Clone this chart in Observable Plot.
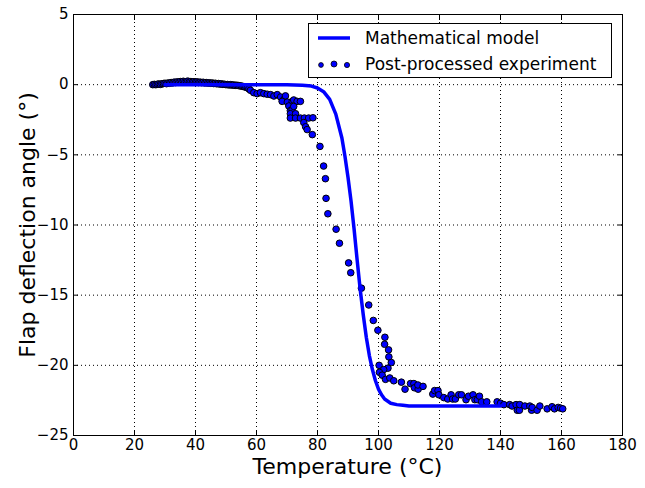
<!DOCTYPE html>
<html><head><meta charset="utf-8">
<script src="https://cdn.jsdelivr.net/npm/d3@7"></script>
<script src="https://cdn.jsdelivr.net/npm/@observablehq/plot@0.6"></script>
<style>
body{margin:0;background:#fff;}
#wrap{position:relative;width:645px;height:488px;font-family:"DejaVu Sans",sans-serif;color:#000;}
#legend{position:absolute;left:308px;top:23px;width:304px;height:55px;border:1px solid #000;background:#fff;font-size:17px;box-sizing:border-box;}
.row{position:absolute;left:0;height:24px;display:flex;align-items:center;white-space:nowrap;}
.row svg{margin-left:8px;margin-right:14px;}
#xlab{position:absolute;left:73px;width:549px;top:456px;line-height:22px;height:22px;text-align:center;font-size:22px;white-space:nowrap;}
#ylab{position:absolute;left:28px;top:225px;line-height:22px;transform:translate(-50%,-50%) rotate(-90deg);font-size:22px;white-space:nowrap;}
</style>
</head><body>
<div id="wrap"></div>
<script>
// Axis ticks
const xTicks = [0, 20, 40, 60, 80, 100, 120, 140, 160, 180];
const yTicks = [-25, -20, -15, -10, -5, 0, 5];

// Mathematical model (temperature °C, deflection °)
const modelTemp = [30, 40, 50, 60, 70, 75, 78, 80, 82, 84, 86, 88, 89, 90, 91, 92, 93, 94, 95, 96, 97, 98, 99, 100, 101, 102, 104, 106, 108, 110, 115, 120, 130, 140];
const modelAngle = [0, 0, 0, 0, -0.01, -0.04, -0.1, -0.24, -0.5, -1.05, -2.1, -3.8, -5.1, -6.6, -8.3, -10.3, -12.5, -14.6, -16.4, -18.0, -19.3, -20.3, -21.1, -21.7, -22.1, -22.4, -22.7, -22.8, -22.85, -22.9, -22.9, -22.9, -22.9, -22.9];

// Post-processed experiment
const expTemp = [
 26, 26.5, 27, 27.5, 28, 28.5, 29, 29.5, 30, 30.5, 31, 31.5, 32, 32.5, 33, 33.5, 34, 34.5, 35, 35.5,
 36, 36.5, 37, 37.5, 38, 38.5, 39, 39.5, 40, 40.5, 41, 41.5, 42, 42.5, 43, 43.5, 44, 44.5, 45, 45.5,
 46, 46.5, 47, 47.5, 48, 48.5, 49, 49.5, 50, 50.5, 51, 51.5, 52, 52.5, 53, 53.5, 54, 54.5, 55, 55.5,
 56, 56.5, 57, 57.5, 58,
 59.1, 60.2, 61.3, 62.4, 63.5, 64.6, 65.7, 66.8, 67.9, 69.0, 68.4, 69.5, 70.1, 71.7, 72.2, 73.3, 74.4,
 70.6, 71.1, 71.7, 72.2, 71.1, 72.8, 71.1, 72.8, 74.4, 75.7, 77.1, 78.5, 75.5, 76.1, 76.6, 78.3,
 80.8, 82.0, 82.6, 82.8, 83.4, 86.1, 87.2, 90.2, 90.9,
 94.4, 96.8, 98.3, 99.8, 102.1, 102.0, 103.3, 103.4, 104.2, 100.2, 103.1, 101.7, 100.3, 101.2, 102.3, 103.7, 105.0,
 107.5, 108.7, 110.5, 111.6, 111.8, 113.0, 112.9, 114.6,
 117.8, 118.4, 119.5, 119.8, 121.4, 122.7, 123.8, 124.3, 125.2, 126.3, 127.2, 128.7, 129.5, 131.0, 131.6, 132.4, 133.1, 133.8, 135.5,
 138.9, 140.0, 141.1, 143.0, 143.8, 145.1, 145.5, 146.2, 146.3, 148.0, 149.6, 150.2, 150.4, 152.0, 152.9,
 155.3, 156.9, 157.7, 158.9, 159.7, 160.4
];
const expAngle = [
 0.0, 0.02, 0.0, 0.03, 0.05, 0.02, 0.06, 0.08, 0.1, 0.07, 0.12, 0.1, 0.15, 0.12, 0.18, 0.15, 0.2, 0.17, 0.22, 0.18,
 0.24, 0.2, 0.22, 0.25, 0.2, 0.22, 0.18, 0.21, 0.17, 0.2, 0.15, 0.18, 0.14, 0.17, 0.12, 0.15, 0.11, 0.13, 0.1, 0.12,
 0.08, 0.1, 0.06, 0.08, 0.04, 0.06, 0.02, 0.03, 0.0, 0.01, -0.02, 0.0, -0.03, -0.02, -0.05, -0.04, -0.06, -0.08, -0.1, -0.12,
 -0.15, -0.18, -0.22, -0.3, -0.4,
 -0.57, -0.64, -0.57, -0.64, -0.68, -0.71, -0.81, -0.71, -0.88, -1.05, -1.19, -0.8, -1.24, -1.19, -1.09, -1.19, -1.19,
 -1.52, -1.85, -1.76, -1.55, -2.07, -2.07, -2.38, -2.38, -2.38, -2.38, -2.38, -2.36, -2.7, -3.0, -3.2, -3.56,
 -4.4, -5.8, -6.7, -8.1, -9.2, -10.3, -11.3, -12.7, -13.4,
 -14.5, -15.7, -16.8, -17.5, -18.0, -18.5, -18.9, -19.4, -19.8, -20.0, -20.2, -20.3, -20.5, -20.7, -21.0, -20.9, -21.1,
 -21.2, -21.7, -21.3, -21.3, -21.6, -21.7, -21.4, -21.5,
 -22.05, -21.8, -21.8, -22.1, -22.3, -22.4, -22.1, -22.4, -22.4, -22.1, -22.1, -22.45, -22.2, -22.1, -22.45, -22.45, -22.2, -22.6, -22.6,
 -22.6, -22.7, -22.8, -22.8, -22.9, -22.8, -23.2, -23.2, -22.8, -22.9, -22.9, -23.2, -23.0, -23.2, -22.9,
 -23.1, -22.95, -23.1, -23.0, -23.05, -23.1
];

const model = modelTemp.map((t, i) => ({t, a: modelAngle[i]}));
const exp = expTemp.map((t, i) => ({t, a: expAngle[i]}));

const blue = "#0000ff";
const chart = Plot.plot({
  width: 645, height: 488,
  marginLeft: 73, marginRight: 23, marginTop: 14, marginBottom: 53,
  style: {fontFamily: "DejaVu Sans, sans-serif", fontSize: "15px", background: "white", color: "#000", overflow: "visible"},
  x: {domain: [0, 180], label: null},
  y: {domain: [-25, 5], label: null},
  marks: [
    Plot.gridX(xTicks, {stroke: "#000", strokeOpacity: 1, strokeWidth: 1, strokeDasharray: "1,3"}),
    Plot.gridY(yTicks, {stroke: "#000", strokeOpacity: 1, strokeWidth: 1, strokeDasharray: "1,3"}),
    Plot.dot(exp, {x: "t", y: "a", r: 3.3, fill: blue, stroke: "#000", strokeWidth: 1}),
    Plot.line(model, {x: "t", y: "a", stroke: blue, strokeWidth: 3.5}),
    Plot.frame({stroke: "#000", strokeWidth: 1}),
    Plot.axisX(xTicks, {anchor: "bottom", tickSize: 0, tickPadding: 4, fontSize: 15, label: null}),
    Plot.axisX(xTicks, {anchor: "bottom", tickSize: -5, tickFormat: () => "", label: null}),
    Plot.axisX(xTicks, {anchor: "top", tickSize: -5, tickFormat: () => "", label: null}),
    Plot.axisY(yTicks, {anchor: "left", tickSize: 0, tickPadding: 5, fontSize: 15, label: null}),
    Plot.axisY(yTicks, {anchor: "left", tickSize: -5, tickFormat: () => "", label: null}),
    Plot.axisY(yTicks, {anchor: "right", tickSize: -5, tickFormat: () => "", label: null})
  ]
});

const wrap = document.getElementById("wrap");
wrap.appendChild(chart);

const xlab = document.createElement("div");
xlab.id = "xlab"; xlab.textContent = "Temperature (°C)";
wrap.appendChild(xlab);
const ylab = document.createElement("div");
ylab.id = "ylab"; ylab.textContent = "Flap deflection angle (°)";
wrap.appendChild(ylab);

const legend = document.createElement("div");
legend.id = "legend";
legend.innerHTML =
  '<div class="row" style="top:2px"><svg width="34" height="10"><line x1="1" x2="33" y1="5" y2="5" stroke="' + blue + '" stroke-width="3.5"/></svg><span>Mathematical model</span></div>' +
  '<div class="row" style="top:28px"><svg width="34" height="12"><circle cx="4" cy="7" r="2.4" fill="' + blue + '" stroke="#000" stroke-width="0.8"/><circle cx="17" cy="6" r="3" fill="' + blue + '" stroke="#000" stroke-width="0.8"/><circle cx="30" cy="7" r="2.6" fill="' + blue + '" stroke="#000" stroke-width="0.8"/></svg><span>Post-processed experiment</span></div>';
wrap.appendChild(legend);
</script>
</body></html>
